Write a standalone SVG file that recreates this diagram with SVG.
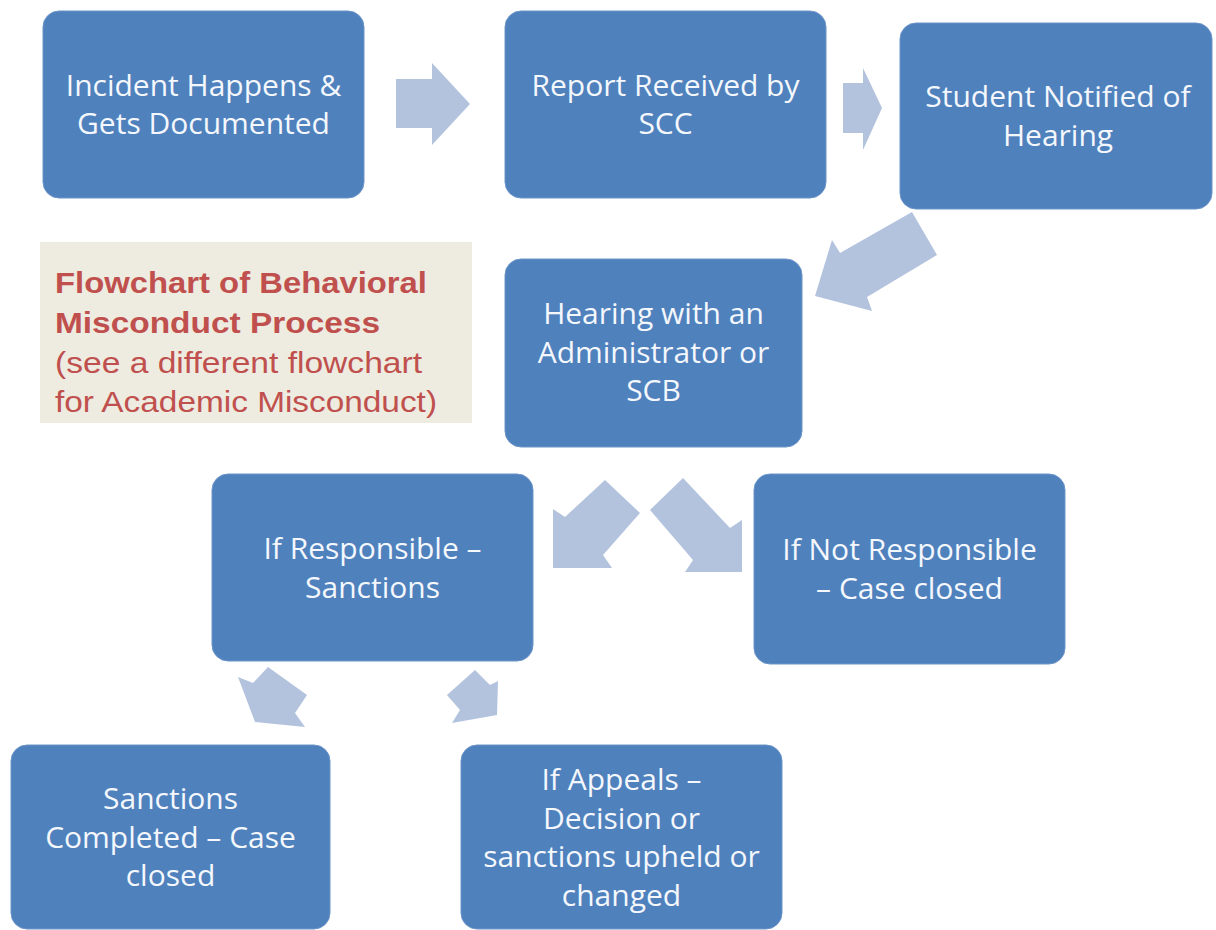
<svg xmlns="http://www.w3.org/2000/svg" width="1216" height="930" viewBox="0 0 1216 930">
  <style>
    .box { fill: #4F81BD; stroke: #6C94C8; stroke-width: 1; }
    .lbl { font-family: "Open Sans", "Noto Sans", "Liberation Sans", sans-serif; font-size: 30px; fill: #F4F7FC; text-anchor: middle; }
    .arrow { fill: #B3C3DE; }
    .title { font-family: "Liberation Sans", Arial, sans-serif; font-size: 30px; fill: #C0504D; }
    .title-b { font-weight: bold; }
  </style>
  <rect width="1216" height="930" fill="#FFFFFF"/>

  <!-- caption panel -->
  <g id="caption">
    <rect x="40" y="242" width="432" height="181" fill="#EEEBE1"/>
    <text class="title title-b" x="55" y="293" textLength="372" lengthAdjust="spacingAndGlyphs">Flowchart of Behavioral</text>
    <text class="title title-b" x="55" y="333" textLength="325" lengthAdjust="spacingAndGlyphs">Misconduct Process</text>
    <text class="title" x="55" y="373" textLength="367" lengthAdjust="spacingAndGlyphs">(see a different flowchart</text>
    <text class="title" x="55" y="412" textLength="382" lengthAdjust="spacingAndGlyphs">for Academic Misconduct)</text>
  </g>

  <!-- block arrows between steps -->
  <g id="connectors">
    <polygon class="arrow" points="396,79 432,79 432,63 470,104 432,145 432,128 396,128"/>
    <polygon class="arrow" points="843,83 863,83 863,68 882,108 863,150 863,133 843,133"/>
    <polygon class="arrow" points="912,212 937,255 867,297 872,311 815,296 832,240 840,253"/>
    <polygon class="arrow" points="605,480 640,513 603,555 612,568 553,568 553,509 565,517"/>
    <polygon class="arrow" points="683,478 730,528 742,520 742,572 685,572 693,560 650,510"/>
    <polygon class="arrow" points="238,677 253,683 268,667 307,695 295,713 305,727 255,722"/>
    <polygon class="arrow" points="447,695 475,670 490,685 498,681 497,715 452,723 460,710"/>
  </g>

  <g id="incident">
    <rect class="box" x="43" y="11" width="321" height="187" rx="16"/>
    <text class="lbl" x="203.5" y="95.5">Incident Happens &amp;</text>
    <text class="lbl" x="203.5" y="134">Gets Documented</text>
  </g>

  <g id="report">
    <rect class="box" x="505" y="11" width="321" height="187" rx="16"/>
    <text class="lbl" x="665.5" y="95.5">Report Received by</text>
    <text class="lbl" x="665.5" y="134">SCC</text>
  </g>

  <g id="notified">
    <rect class="box" x="900" y="23" width="312" height="186" rx="16"/>
    <text class="lbl" x="1058" y="107">Student Notified of</text>
    <text class="lbl" x="1058" y="145.5">Hearing</text>
  </g>

  <g id="hearing">
    <rect class="box" x="505" y="259" width="297" height="188" rx="16"/>
    <text class="lbl" x="653.5" y="324">Hearing with an</text>
    <text class="lbl" x="653.5" y="362.5">Administrator or</text>
    <text class="lbl" x="653.5" y="401">SCB</text>
  </g>

  <g id="responsible">
    <rect class="box" x="212" y="474" width="321" height="187" rx="16"/>
    <text class="lbl" x="372.5" y="559">If Responsible –</text>
    <text class="lbl" x="372.5" y="597.5">Sanctions</text>
  </g>

  <g id="not-responsible">
    <rect class="box" x="754" y="474" width="311" height="190" rx="16"/>
    <text class="lbl" x="909.5" y="560">If Not Responsible</text>
    <text class="lbl" x="909.5" y="598.5">– Case closed</text>
  </g>

  <g id="completed">
    <rect class="box" x="11" y="745" width="319" height="184" rx="16"/>
    <text class="lbl" x="170.5" y="809">Sanctions</text>
    <text class="lbl" x="170.5" y="847.5">Completed – Case</text>
    <text class="lbl" x="170.5" y="886">closed</text>
  </g>

  <g id="appeals">
    <rect class="box" x="461" y="745" width="321" height="184" rx="16"/>
    <text class="lbl" x="621.5" y="790">If Appeals –</text>
    <text class="lbl" x="621.5" y="828.5">Decision or</text>
    <text class="lbl" x="621.5" y="867">sanctions upheld or</text>
    <text class="lbl" x="621.5" y="905.5">changed</text>
  </g>
</svg>
